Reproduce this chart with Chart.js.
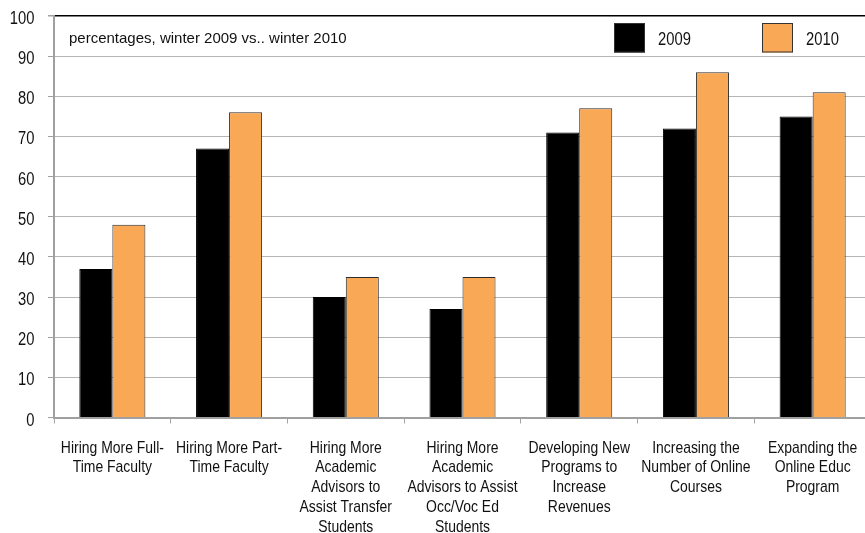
<!DOCTYPE html>
<html>
<head>
<meta charset="utf-8">
<script src="https://cdn.jsdelivr.net/npm/chart.js@4.4.1/dist/chart.umd.min.js"></script>
<style>
  html, body { margin: 0; padding: 0; background: #fff; overflow: hidden; }
  #wrap { width: 880px; height: 533px; position: relative; }
</style>
</head>
<body>
<div id="wrap"><canvas id="c"></canvas></div>
<script>
// Survey categories (multi-line tick labels)
const categories = [
  ["Hiring More Full-", "Time Faculty"],
  ["Hiring More Part-", "Time Faculty"],
  ["Hiring More", "Academic", "Advisors to", "Assist Transfer", "Students"],
  ["Hiring More", "Academic", "Advisors to Assist", "Occ/Voc Ed", "Students"],
  ["Developing New", "Programs to", "Increase", "Revenues"],
  ["Increasing the", "Number of Online", "Courses"],
  ["Expanding the", "Online Educ", "Program"]
];

// Percentages by year
const values2009 = [37, 67, 30, 27, 71, 72, 75];
const values2010 = [48, 76, 35, 35, 77, 86, 81];

const seriesNames = ["2009", "2010"];
const yTicks = [0, 10, 20, 30, 40, 50, 60, 70, 80, 90, 100];
const noteText = "percentages, winter 2009 vs.. winter 2010";

const SANS = "'Liberation Sans', Arial, sans-serif";
const NARROW_X = 0.82;   // horizontal squeeze giving a narrow face
const BLACK = "#000000";
const ORANGE = "#F9A856";

// Draw text with a condensed width, anchored at (x, y)
function narrowText(ctx, text, x, y, size, align) {
  ctx.save();
  ctx.font = size + "px " + SANS;
  ctx.textAlign = align;
  ctx.textBaseline = 'alphabetic';
  ctx.translate(x, y);
  ctx.scale(NARROW_X, 1);
  ctx.fillText(text, 0, 0);
  ctx.restore();
}

// Axis labels, note text and the in-plot legend
const labelsPlugin = {
  id: 'labels',
  afterDraw(chart) {
    const ctx = chart.ctx;
    const xs = chart.scales.x;
    const ys = chart.scales.y;
    ctx.save();
    ctx.fillStyle = '#111';

    // value axis labels
    yTicks.forEach(v => {
      const py = ys.getPixelForValue(v);
      narrowText(ctx, String(v), 34.5, py + 8, 18, 'right');
    });

    // category labels
    categories.forEach((lines, i) => {
      const px = xs.getPixelForValue(i);
      lines.forEach((ln, k) => {
        narrowText(ctx, ln, px, 452.5 + k * 19.9, 17, 'center');
      });
    });

    // note
    ctx.font = "15px " + SANS;
    ctx.textAlign = 'left';
    ctx.textBaseline = 'alphabetic';
    ctx.fillText(noteText, 69, 42.5);

    // legend
    const items = [
      { name: seriesNames[0], color: BLACK, x: 614 },
      { name: seriesNames[1], color: ORANGE, x: 762 }
    ];
    items.forEach(it => {
      ctx.fillStyle = it.color;
      ctx.fillRect(it.x, 23.5, 31, 29);
      ctx.strokeStyle = '#333';
      ctx.lineWidth = 1;
      ctx.strokeRect(it.x + 0.5, 23.5, 30, 28.5);
      ctx.fillStyle = '#111';
      narrowText(ctx, it.name, it.x + 44, 45, 18, 'left');
    });
    ctx.restore();
  }
};

new Chart(document.getElementById('c'), {
  type: 'bar',
  data: {
    labels: categories,
    datasets: [
      {
        label: seriesNames[0],
        data: values2009,
        backgroundColor: BLACK,
        borderColor: BLACK,
        borderWidth: 1,
        categoryPercentage: 0.566,
        barPercentage: 1.0
      },
      {
        label: seriesNames[1],
        data: values2010,
        backgroundColor: ORANGE,
        borderColor: '#2b2b2b',
        borderWidth: 1,
        categoryPercentage: 0.566,
        barPercentage: 1.0
      }
    ]
  },
  options: {
    responsive: true,
    maintainAspectRatio: false,
    animation: false,
    layout: { padding: { top: 16, right: 9, left: 0, bottom: 0 } },
    plugins: {
      legend: { display: false },
      tooltip: { enabled: false }
    },
    scales: {
      x: {
        offset: true,
        grid: {
          display: true,
          drawOnChartArea: false,
          drawTicks: true,
          tickLength: 6,
          offset: true,
          color: '#a6a6a6'
        },
        border: { display: true, color: '#a0a0a0', width: 2 },
        ticks: { display: false },
        afterFit(scale) { scale.height = 115.5; }
      },
      y: {
        min: 0,
        max: 100,
        afterBuildTicks(scale) { scale.ticks = yTicks.map(v => ({ value: v })); },
        grid: {
          color: ctx => (ctx.tick && ctx.tick.value === 100) ? '#000' : '#b5b5b5',
          lineWidth: ctx => (ctx.tick && ctx.tick.value === 100) ? 1.5 : 1,
          drawTicks: true,
          tickLength: 6,
          tickColor: '#a0a0a0'
        },
        border: { display: true, color: '#a0a0a0', width: 2 },
        ticks: { display: false },
        afterFit(scale) { scale.width = 54; }
      }
    }
  },
  plugins: [labelsPlugin]
});
</script>
</body>
</html>
